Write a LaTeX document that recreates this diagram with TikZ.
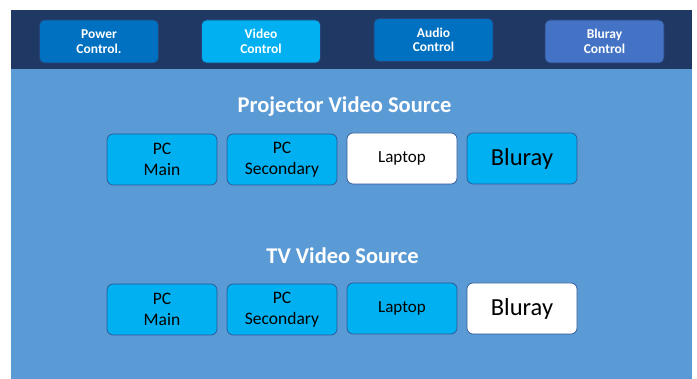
\documentclass[tikz,border=0pt]{standalone}
\usepackage{fontspec}
\setmainfont{Carlito}
\definecolor{navybar}{HTML}{203864}
\definecolor{panelblue}{HTML}{5B9BD5}
\definecolor{ctrlblue}{HTML}{0070C0}
\definecolor{cyanblue}{HTML}{00B0F0}
\definecolor{slateblue}{HTML}{4472C4}
\definecolor{edgeblue}{HTML}{2F5597}
\tikzset{
  ctrlbtn/.style={rounded corners=5pt, draw=edgeblue!80!black, line width=0.6pt,
    minimum width=119pt, minimum height=43pt, inner sep=0pt, align=center,
    text=white, font=\fontsize{13.5}{14.5}\selectfont\bfseries},
  srcbtn/.style={rounded corners=6pt, draw=edgeblue, line width=0.7pt, fill=cyanblue,
    minimum width=110pt, minimum height=51pt, inner sep=0pt, align=center,
    font=\fontsize{17.5}{20.5}\selectfont},
  picked/.style={fill=white},
  heading/.style={text=white, font=\fontsize{22.5}{26}\selectfont\bfseries}
}
\begin{document}
\begin{tikzpicture}[x=1pt, y=-1pt]
\useasboundingbox (0,0) rectangle (697,379);
\fill[panelblue] (11,69) rectangle (692,379);
\fill[navybar] (11,10) rectangle (692,69);
% control buttons
\node[ctrlbtn, fill=ctrlblue] (power) at (99,41.5) {Power\\Control.};
\node[ctrlbtn, fill=cyanblue] (video) at (261,41.5) {Video\\Control};
\node[ctrlbtn, fill=ctrlblue] (audio) at (433.5,40) {Audio\\Control};
\node[ctrlbtn, fill=slateblue] (bluray) at (604.5,41.5) {Bluray\\Control};
% projector sources
\node[heading] (projtitle) at (344.5,107) {Projector Video Source};
\node[srcbtn] (projpcmain) at (162,159.5) {PC\\Main};
\node[srcbtn] (projpcsec) at (282,159.5) {PC\\Secondary};
\node[srcbtn, picked, font=\fontsize{17}{20}\selectfont] (projlaptop) at (402,158.5) {Laptop};
\node[srcbtn, font=\fontsize{24.5}{28}\selectfont] (projbluray) at (522,158.5) {Bluray};
% tv sources
\node[heading] (tvtitle) at (342.5,255.5) {TV Video Source};
\node[srcbtn] (tvpcmain) at (162,309.5) {PC\\Main};
\node[srcbtn] (tvpcsec) at (282,309.5) {PC\\Secondary};
\node[srcbtn, font=\fontsize{17}{20}\selectfont] (tvlaptop) at (402,308.5) {Laptop};
\node[srcbtn, picked, font=\fontsize{24.5}{28}\selectfont] (tvbluray) at (522,308.5) {Bluray};
\end{tikzpicture}
\end{document}
